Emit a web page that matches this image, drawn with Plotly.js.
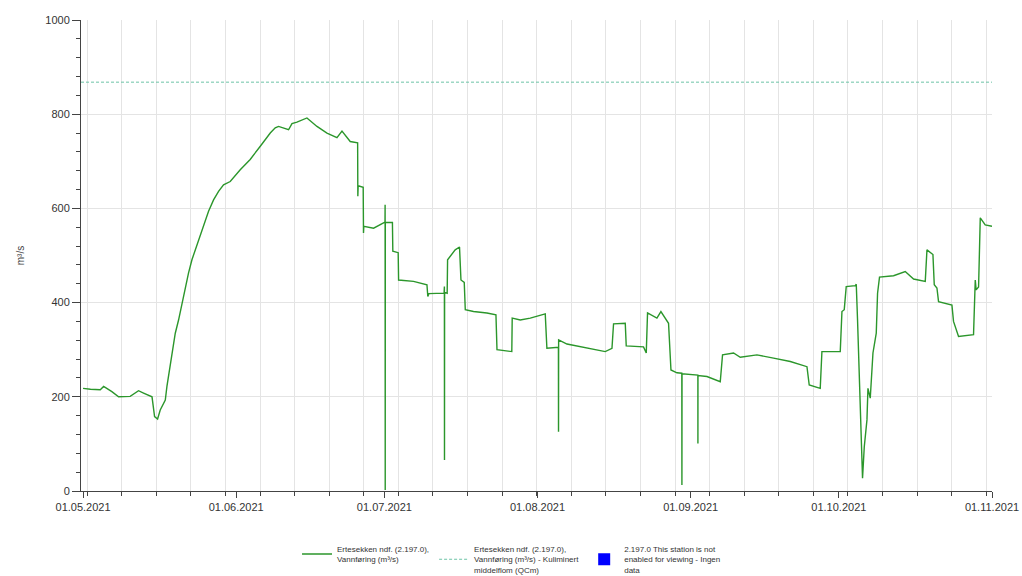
<!DOCTYPE html>
<html>
<head>
<meta charset="utf-8">
<script src="https://cdn.plot.ly/plotly-3.0.1.min.js"></script>
<style>
  html, body { margin: 0; padding: 0; background: #ffffff; }
  #chart { width: 1022px; height: 576px; }
</style>
</head>
<body>
<div id="chart"></div>
<script>
// ---- Data ----
const flowDates = [
  '2021-05-01 00:00','2021-05-02 12:00','2021-05-04 11:30','2021-05-05 04:00','2021-05-06 20:00',
  '2021-05-08 04:30','2021-05-10 13:00','2021-05-12 05:30','2021-05-13 06:00','2021-05-14 23:00',
  '2021-05-15 11:30','2021-05-16 02:00','2021-05-16 15:00','2021-05-17 15:30','2021-05-17 23:30',
  '2021-05-18 15:30','2021-05-19 07:40','2021-05-19 16:00','2021-05-20 08:00','2021-05-21 00:30',
  '2021-05-21 16:30','2021-05-22 08:30','2021-05-23 01:00','2021-05-23 17:00','2021-05-24 17:20',
  '2021-05-25 09:30','2021-05-26 09:40','2021-05-27 10:00','2021-05-28 10:20','2021-05-29 10:30',
  '2021-05-30 19:00','2021-06-01 19:40','2021-06-03 04:20','2021-06-03 20:00','2021-06-05 21:00',
  '2021-06-06 21:00','2021-06-07 21:30','2021-06-08 21:40','2021-06-09 13:45','2021-06-11 14:30',
  '2021-06-12 07:00','2021-06-13 07:10','2021-06-15 07:45','2021-06-17 08:30','2021-06-19 09:00',
  '2021-06-21 09:30','2021-06-22 10:00','2021-06-24 02:00','2021-06-25 14:00','2021-06-25 15:00',
  '2021-06-25 16:30','2021-06-26 17:00','2021-06-26 18:30','2021-06-26 20:00','2021-06-28 19:30',
  '2021-06-30 20:00','2021-07-01 03:00','2021-07-01 03:30','2021-07-01 04:00','2021-07-01 04:30',
  '2021-07-02 15:00','2021-07-02 17:00','2021-07-03 19:00','2021-07-03 21:00','2021-07-06 21:30',
  '2021-07-09 14:45','2021-07-09 19:00','2021-07-10 00:00','2021-07-13 02:00','2021-07-13 03:30',
  '2021-07-13 04:00','2021-07-13 04:30','2021-07-13 17:00','2021-07-13 19:00','2021-07-15 08:00',
  '2021-07-16 05:00','2021-07-16 12:00','2021-07-17 04:00','2021-07-17 09:00','2021-07-19 01:00',
  '2021-07-21 18:00','2021-07-23 14:00','2021-07-23 19:00','2021-07-26 19:00','2021-07-26 21:00',
  '2021-07-28 12:00','2021-07-30 12:45','2021-08-02 13:30','2021-08-02 21:30','2021-08-05 05:30',
  '2021-08-05 06:00','2021-08-05 06:30','2021-08-06 23:00','2021-08-09 15:30','2021-08-12 08:00',
  '2021-08-14 17:00','2021-08-16 01:40','2021-08-16 09:20','2021-08-18 18:15','2021-08-18 23:00',
  '2021-08-22 11:00','2021-08-23 00:15','2021-08-23 06:30','2021-08-25 04:00','2021-08-25 23:30',
  '2021-08-27 12:30','2021-08-28 00:15','2021-08-29 05:15','2021-08-30 05:00','2021-08-30 05:30',
  '2021-08-30 06:00','2021-09-02 11:00','2021-09-02 11:15','2021-09-02 11:30','2021-09-04 07:10',
  '2021-09-06 23:45','2021-09-07 10:50','2021-09-09 16:20','2021-09-11 01:00','2021-09-14 10:00',
  '2021-09-17 18:40','2021-09-21 04:00','2021-09-24 13:00','2021-09-25 00:00','2021-09-27 05:30',
  '2021-09-27 13:40','2021-10-01 06:45','2021-10-01 15:00','2021-10-02 02:10','2021-10-02 11:45',
  '2021-10-04 07:40','2021-10-04 12:30','2021-10-04 18:45','2021-10-05 04:30','2021-10-05 16:00',
  '2021-10-05 19:00','2021-10-06 03:30','2021-10-06 16:30','2021-10-06 21:20','2021-10-07 08:30',
  '2021-10-07 21:40','2021-10-08 13:40','2021-10-08 20:00','2021-10-09 05:30','2021-10-12 01:40',
  '2021-10-14 10:30','2021-10-16 03:00','2021-10-18 11:45','2021-10-18 20:00','2021-10-20 01:00',
  '2021-10-20 07:30','2021-10-20 20:30','2021-10-21 04:20','2021-10-23 21:20','2021-10-24 05:00',
  '2021-10-24 13:30','2021-10-25 05:30','2021-10-28 06:15','2021-10-28 14:40','2021-10-28 19:00',
  '2021-10-29 06:45','2021-10-29 15:00','2021-10-30 15:00','2021-11-01 00:00'
];
const flowValues = [
  218,216,215,222,211,
  200,201,213,208,200,
  158,153,172,193,222,
  264,307,335,363,399,
  427,463,491,512,540,
  562,594,618,636,650,
  657,682,696,704,732,
  746,760,771,774,767,
  780,783,792,774,760,
  750,764,742,739,626,
  648,645,548,562,558,
  569,571,608,2,570,
  570,509,506,448,445,
  438,413,419,420,434,
  66,422,420,491,512,
  518,448,443,385,381,
  378,374,300,296,367,
  363,367,376,303,305,
  126,321,312,307,302,
  296,303,355,356,308,
  306,293,378,367,381,
  356,257,251,250,13,
  249,246,101,245,243,
  232,289,293,284,289,
  282,275,264,225,218,
  296,296,381,385,434,
  436,439,363,243,87,
  27,94,151,218,197,
  293,335,420,454,457,
  466,450,445,512,502,
  438,431,402,395,360,
  349,328,332,448,427,
  433,580,565,562
];
const qcmDates = ['2021-04-30 14:00', '2021-11-01 00:00'];
const qcmValues = [868, 868];
const noDataDates = ['2021-05-01'];
const noDataValues = [null];
const monthTicks = ['2021-05-01','2021-06-01','2021-07-01','2021-08-01','2021-09-01','2021-10-01','2021-11-01'];
const monthLabels = ['01.05.2021','01.06.2021','01.07.2021','01.08.2021','01.09.2021','01.10.2021','01.11.2021'];
const seriesNames = [
  'Ertesekken ndf. (2.197.0),<br>Vannføring (m³/s)',
  'Ertesekken ndf. (2.197.0),<br>Vannføring (m³/s) - Kuliminert<br>middelflom (QCm)',
  '2.197.0 This station is not<br>enabled for viewing - Ingen<br>data'
];

const traces = [
  {
    type: 'scatter', mode: 'lines', x: flowDates, y: flowValues, name: seriesNames[0],
    line: { color: '#2b962b', width: 1.4 }
  },
  {
    type: 'scatter', mode: 'lines', x: qcmDates, y: qcmValues, name: seriesNames[1],
    line: { color: '#6cc3a6', width: 1, dash: '3px,2px' }
  },
  {
    type: 'bar', x: noDataDates, y: noDataValues, name: seriesNames[2],
    marker: { color: '#0000ff', line: { width: 0 } }
  }
];

const layout = {
  width: 1022, height: 576,
  margin: { l: 81, r: 30, t: 20, b: 85, autoexpand: false },
  paper_bgcolor: '#ffffff', plot_bgcolor: '#ffffff',
  font: { family: 'Liberation Sans, Arial, sans-serif', color: '#333333', size: 11 },
  showlegend: true,
  xaxis: {
    type: 'date',
    range: ['2021-04-30 14:00', '2021-11-01 00:00'],
    tickmode: 'array', tickvals: monthTicks, ticktext: monthLabels,
    showgrid: false, zeroline: false,
    showline: true, linecolor: '#444444', linewidth: 1,
    ticks: 'outside', ticklen: 6, tickcolor: '#444444',
    tickfont: { size: 11, color: '#333333' },
    minor: {
      dtick: 7 * 86400000, tick0: '2021-05-01 20:00',
      ticks: 'outside', ticklen: 4, tickcolor: '#444444',
      showgrid: true, gridcolor: '#e4e4e4', gridwidth: 1
    }
  },
  yaxis: {
    range: [0, 1000], dtick: 200, tick0: 0,
    showgrid: true, gridcolor: '#e4e4e4', gridwidth: 1, zeroline: false,
    showline: true, linecolor: '#444444', linewidth: 1,
    ticks: 'outside', ticklen: 8, tickcolor: '#444444',
    tickfont: { size: 11, color: '#333333' },
    minor: { dtick: 40, ticks: 'outside', ticklen: 4, tickcolor: '#444444', showgrid: false },
    title: { text: 'm³/s', font: { size: 10, color: '#444444' }, standoff: 18 }
  },
  legend: {
    orientation: 'h', x: 0.4726, xanchor: 'center', y: -0.098, yanchor: 'top',
    font: { size: 8, color: '#333333' }, bgcolor: 'rgba(0,0,0,0)',
    itemwidth: 30, tracegroupgap: 0
  },
  bargap: 0
};

Plotly.newPlot('chart', traces, layout, { staticPlot: true, displayModeBar: false });
</script>
</body>
</html>
